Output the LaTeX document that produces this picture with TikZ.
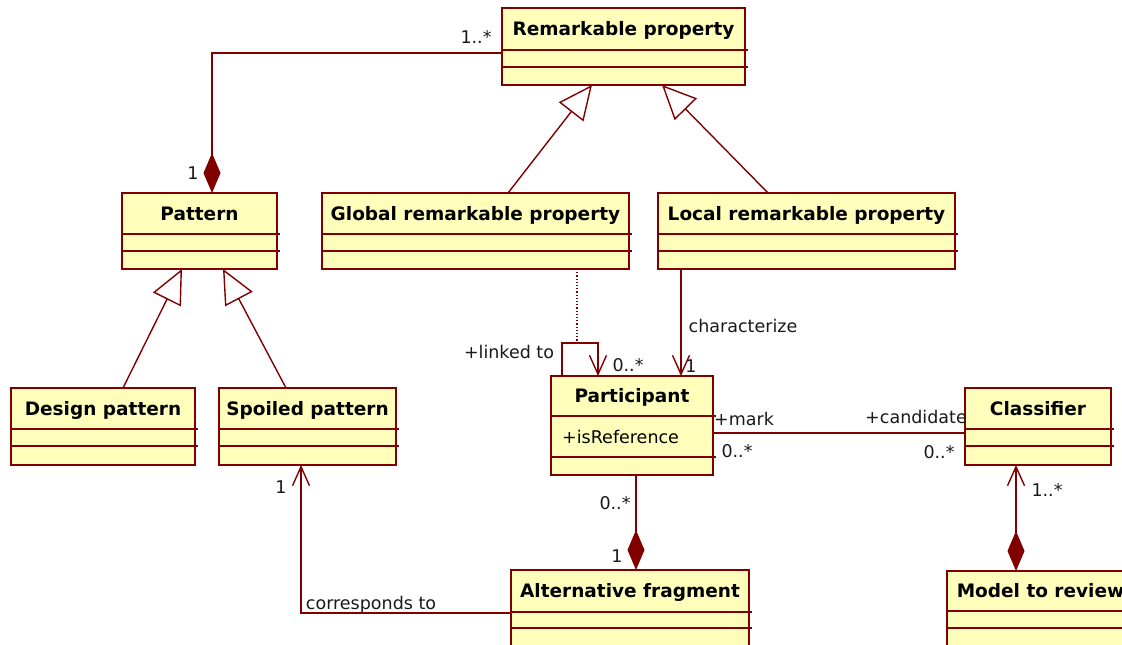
\documentclass[tikz,border=0pt]{standalone}
\usepackage{fontspec}
\setmainfont{DejaVu Sans}
\usetikzlibrary{arrows.meta}
\definecolor{umlred}{RGB}{128,0,0}
\definecolor{umlfill}{RGB}{255,255,187}
\tikzset{
  clsbox/.style={draw=umlred, fill=umlfill, line width=1.6pt, inner sep=0pt, outer sep=0pt},
  clstitle/.style={font=\fontsize{18.5}{20}\selectfont\bfseries, inner sep=0pt, text height=13.5pt, text depth=0pt},
  attrtext/.style={font=\fontsize{17.5}{19}\selectfont, inner sep=0pt, text height=12.7pt, text depth=0pt},
  lbl/.style={font=\fontsize{17.5}{19}\selectfont, inner sep=0pt, text height=12.7pt, text depth=0pt, text=black!90},
  conn/.style={draw=umlred, line width=1.4pt},
  gentip/.style={conn, -{Triangle[open, length=34pt, width=31pt, fill=white]}},
  navtip/.style={conn, -{Straight Barb[length=19pt, width=17pt]}},
  comptip/.style={conn, -{Diamond[length=40pt, width=17pt, fill=umlred]}},
  dotline/.style={draw=umlred, line width=1.2pt, dash pattern=on 1.2pt off 2pt},
}
\newcommand\umlclass[8]{%
  \node[clsbox, minimum width={#4-#2}, minimum height={#5-#3}] (#1) at ({(#2+#4)/2},{(#3+#5)/2}) {};
  \node[clstitle] (#1-t) at ({(#2+#4)/2},{(#3+#6)/2}) {#8};
  \draw[umlred, line width=1.4pt] (#2,#6) -- ({#4+3},#6) (#2,#7) -- ({#4+3},#7);
}
\begin{document}
\begin{tikzpicture}[x=1pt,y=-1pt]
\clip (0,0) rectangle (1122,645);
\fill[white] (0,0) rectangle (1122,645);
% classes
\umlclass{remark}{502}{8}{745}{85}{50}{67}{Remarkable property}
\umlclass{pattern}{122}{193}{277}{269}{234}{251}{Pattern}
\umlclass{global}{322}{193}{629}{269}{234}{251}{Global remarkable property}
\umlclass{local}{658}{193}{955}{269}{234}{251}{Local remarkable property}
\umlclass{design}{11}{388}{195}{465}{429}{446}{Design pattern}
\umlclass{spoiled}{219}{388}{396}{465}{429}{446}{Spoiled pattern}
\umlclass{part}{551}{376}{713}{475}{416}{457}{Participant}
\node[attrtext, anchor=west] (isref) at (562,437) {+isReference};
\umlclass{classifier}{965}{388}{1111}{465}{429}{446}{Classifier}
\umlclass{alt}{511}{570}{749}{668}{612}{628}{Alternative fragment}
\umlclass{model}{947}{571}{1134}{668}{611}{628}{Model to review}
% composition Remarkable - Pattern
\draw[comptip] (remark.west |- 0,53) -| ([xshift=12.5pt]pattern.north);
\node[lbl] (l1) at (476,37) {1..*};
\node[lbl] (l2) at (193,173) {1};
% generalizations
\draw[gentip] (global.north -| 508,0) -- (remark.south -| 592,0);
\draw[gentip] (local.north -| 768,0) -- (remark.south -| 662,0);
\draw[gentip] (design.north -| 123,0) -- (pattern.south -| 182,0);
\draw[gentip] (spoiled.north -| 286,0) -- (pattern.south -| 223,0);
% dotted link and self association
\coordinate (selftop) at (577,343);
\draw[dotline] (global.south -| 577,0) -- (selftop);
\draw[navtip] (part.north -| 562,0) -- ++(0,-33) -| (part.north -| 598,0);
\node[lbl] (l3) at (509,352) {+linked to};
\node[lbl] (l4) at (628,365) {0..*};
% characterize
\draw[navtip] (local.south -| 681,0) -- (part.north -| 681,0);
\node[lbl] (l5) at (743,326) {characterize};
\node[lbl] (l6) at (691,366) {1};
% participant - classifier
\draw[conn] (part.east |- 0,433) -- (classifier.west |- 0,433);
\node[lbl] (l7) at (744,419) {+mark};
\node[lbl] (l8) at (737,451) {0..*};
\node[lbl] (l9) at (916,417) {+candidate};
\node[lbl] (l10) at (939,452) {0..*};
% classifier - model
\draw[conn, {Straight Barb[length=19pt, width=17pt]}-{Diamond[length=40pt, width=17pt, fill=umlred]}] (classifier.south -| 1016,0) -- (model.north -| 1016,0);
\node[lbl] (l11) at (1047,490) {1..*};
% participant - alternative
\draw[comptip] (part.south -| 636,0) -- (alt.north -| 636,0);
\node[lbl] (l12) at (615,503) {0..*};
\node[lbl] (l13) at (617,556) {1};
% alternative - spoiled
\draw[navtip] (alt.west |- 0,613) -| (spoiled.south -| 301,0);
\node[lbl] (l14) at (371,603) {corresponds to};
\node[lbl] (l15) at (281,487) {1};
\end{tikzpicture}
\end{document}
